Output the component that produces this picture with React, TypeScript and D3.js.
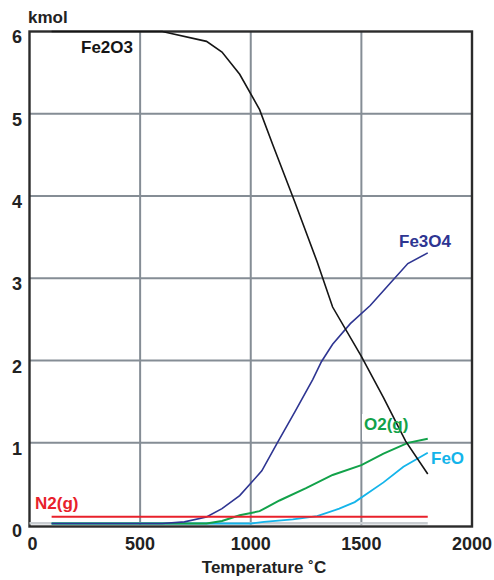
import React from "react";
import * as d3 from "d3";

// Equilibrium amounts (kmol) versus temperature (°C)
const fe2o3T = [100, 600, 800, 870, 950, 1040, 1100, 1200, 1300, 1370, 1500, 1600, 1700, 1800];
const fe2o3V = [6, 6, 5.88, 5.75, 5.48, 5.05, 4.62, 3.92, 3.2, 2.65, 2.05, 1.55, 1.02, 0.62];

const fe3o4T = [100, 600, 700, 800, 870, 950, 1000, 1050, 1120, 1200, 1280, 1320, 1370, 1450, 1540, 1630, 1710, 1800];
const fe3o4V = [0, 0, 0.02, 0.08, 0.18, 0.34, 0.49, 0.64, 0.98, 1.36, 1.75, 1.97, 2.18, 2.43, 2.65, 2.92, 3.16, 3.29];

const o2T = [100, 800, 870, 950, 1040, 1130, 1250, 1370, 1500, 1600, 1710, 1800];
const o2V = [0, 0, 0.03, 0.1, 0.15, 0.28, 0.43, 0.59, 0.71, 0.85, 0.98, 1.03];

const feoT = [100, 1000, 1060, 1190, 1300, 1400, 1470, 1600, 1690, 1800];
const feoV = [0, 0, 0.02, 0.05, 0.09, 0.18, 0.26, 0.5, 0.69, 0.86];

const n2T = [100, 1800];
const n2V = [0.1, 0.1];

const baseT = [0, 1800];
const baseV = [0, 0];

const xTicks = [0, 500, 1000, 1500, 2000];
const yTicks = [0, 1, 2, 3, 4, 5, 6];

const W = 494;
const H = 580;
const FONT = "'Liberation Sans', Arial, Helvetica, sans-serif";

const x = d3.scaleLinear().domain([0, 2000]).range([29.5, 472]);
const y = d3.scaleLinear().domain([0, 6]).range([525, 31.5]);

const line = d3
  .line<[number, number]>()
  .x((d) => x(d[0]))
  .y((d) => y(d[1]));

const zip = (t: number[], v: number[]) => t.map((d, i) => [d, v[i]] as [number, number]);

export default function App() {
  const grid = "#858d95";
  return (
    <svg
      width={W}
      height={H}
      viewBox={`0 0 ${W} ${H}`}
      style={{ position: "absolute", left: 0, top: 0, background: "#fff" }}
      fontFamily={FONT}
    >
      {/* gridlines */}
      {xTicks.slice(1, -1).map((t) => (
        <line key={"gx" + t} x1={x(t)} x2={x(t)} y1={y(6)} y2={y(0)} stroke={grid} strokeWidth={2} />
      ))}
      {yTicks.slice(1, -1).map((t) => (
        <line key={"gy" + t} x1={x(0)} x2={x(2000)} y1={y(t)} y2={y(t)} stroke={grid} strokeWidth={2} />
      ))}

      {/* backing behind the O2(g) label */}
      <rect x={362} y={414} width={50} height={26} fill="#fff" />

      {/* frame */}
      <rect
        x={x(0)}
        y={y(6)}
        width={x(2000) - x(0)}
        height={y(0) + 1.5 - y(6)}
        fill="none"
        stroke="#2b2b2b"
        strokeWidth={2.4}
      />

      {/* zero-level band */}
      <path d={line(zip(baseT, baseV)) || ""} transform="translate(0,-1.8)" fill="none" stroke="#c9cdd1" strokeWidth={2.6} />

      {/* series */}
      <path d={line(zip(feoT, feoV)) || ""} transform="translate(0,-1.5)" fill="none" stroke="#14b4ea" strokeWidth={1.8} />
      <path d={line(zip(o2T, o2V)) || ""} transform="translate(0,-1.5)" fill="none" stroke="#12a24a" strokeWidth={2} />
      <path d={line(zip(fe3o4T, fe3o4V)) || ""} transform="translate(0,-1.5)" fill="none" stroke="#2e3592" strokeWidth={1.6} />
      <path d={line(zip(n2T, n2V)) || ""} fill="none" stroke="#e8212b" strokeWidth={2} />
      <path d={line(zip(fe2o3T, fe2o3V)) || ""} fill="none" stroke="#151515" strokeWidth={1.6} />

      {/* y axis labels */}
      {yTicks.map((t) => (
        <text key={"yl" + t} x={22} y={y(t) + (t === 6 ? 11 : 12)} textAnchor="end" fontSize={18} fontWeight="bold" fill="#222">
          {t}
        </text>
      ))}
      <text x={28} y={23} fontSize={17} fontWeight="bold" fill="#222">
        kmol
      </text>

      {/* x axis labels */}
      {xTicks.map((t) => (
        <text key={"xl" + t} x={x(t) + (t === 0 ? 3 : 0)} y={550} textAnchor="middle" fontSize={18} fontWeight="bold" fill="#222">
          {t}
        </text>
      ))}
      <text x={264} y={573} textAnchor="middle" fontSize={17} fontWeight="bold" fill="#222">
        Temperature ˚C
      </text>

      {/* series labels */}
      <text x={81} y={53} fontSize={17} fontWeight="bold" fill="#151515">Fe2O3</text>
      <text x={399} y={247} fontSize={17} fontWeight="bold" fill="#2e3592">Fe3O4</text>
      <text x={364} y={430} fontSize={17} fontWeight="bold" fill="#12a24a">O2(g)</text>
      <text x={431} y={464} fontSize={17} fontWeight="bold" fill="#14b4ea">FeO</text>
      <text x={35} y={509} fontSize={17} fontWeight="bold" fill="#e8212b">N2(g)</text>
    </svg>
  );
}
